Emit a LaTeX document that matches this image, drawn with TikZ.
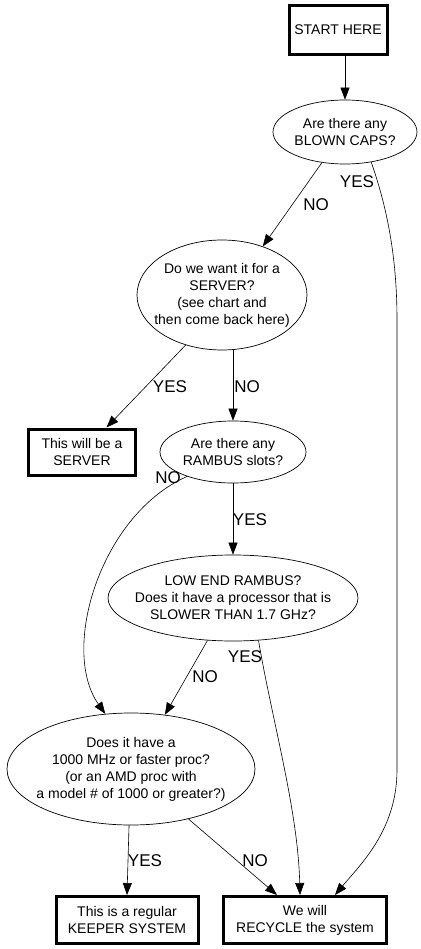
\documentclass[tikz,border=0pt]{standalone}
\usepackage{fontspec}
\setmainfont{Liberation Sans}
\usetikzlibrary{arrows.meta,shapes.geometric}
\begin{document}
\begin{tikzpicture}[x=1pt,y=-1pt,
  box/.style={draw, line width=3pt, rectangle, inner sep=0pt, align=center, font=\fontsize{14}{17}\selectfont},
  ell/.style={draw, line width=0.7pt, ellipse, inner sep=0pt},
  txt/.style={align=center, inner sep=0pt, font=\fontsize{14}{17}\selectfont},
  lab/.style={inner sep=0pt, font=\fontsize{17}{20}\selectfont},
  arr/.style={line width=0.6pt, -{Triangle[length=12pt,width=9pt]}},
]
\path[use as bounding box, fill=white] (0,0) rectangle (420,949);

\node[box, minimum width=98, minimum height=49] (start) at (338,30) {START HERE};
\node[ell, minimum width=144, minimum height=64] (caps) at (345,132) {};
\node[txt] (capsT) at (caps) {Are there any\\BLOWN CAPS?};
\node[ell, minimum width=170, minimum height=110] (server) at (222,295) {};
\node[txt] (serverT) at (server) {Do we want it for a\\SERVER?\\(see chart and\\then come back here)};
\node[box, minimum width=107, minimum height=46] (sbox) at (82,452) {This will be a\\SERVER};
\node[ell, minimum width=146, minimum height=62] (rambus) at (233,452) {};
\node[txt] (rambusT) at (rambus) {Are there any\\RAMBUS slots?};
\node[ell, minimum width=250, minimum height=86] (low) at (233,598) {};
\node[txt] (lowT) at (low) {LOW END RAMBUS?\\Does it have a processor that is\\SLOWER THAN 1.7 GHz?};
\node[ell, minimum width=248, minimum height=112] (mhz) at (131,769) {};
\node[txt] (mhzT) at (mhz) {Does it have a\\1000 MHz or faster proc?\\(or an AMD proc with\\a model \# of 1000 or greater?)};
\node[box, minimum width=142, minimum height=47] (keeper) at (127,920) {This is a regular\\KEEPER SYSTEM};
\node[box, minimum width=163, minimum height=47] (recycle) at (305,920) {We will\\RECYCLE the system};

\draw[arr] (start.south -| caps.north) -- (caps.north);
\draw[arr] (caps.233) -- (server.50);
\draw[arr] (caps.311) .. controls (388,210) and (397,260) .. (397,320) -- (397,770) .. controls (397,830) and (360,865) .. ([xshift=30]recycle.north);
\draw[arr] (server.234) -- (sbox.45);
\draw[arr] (server.south -| rambus.north) -- (rambus.north);
\draw[arr] (rambus.south) -- (low.north);
\draw[arr] (rambus.208) .. controls (100,515) and (60,650) .. (mhz.115);
\draw[arr] (low.239) -- (mhz.58);
\draw[arr] (low.301) .. controls (272,720) and (298,810) .. ([xshift=-5]recycle.north);
\draw[arr] (mhz.268) -- (keeper.north);
\draw[arr] (mhz.319) -- ([xshift=-28]recycle.north);

\node[lab] (l1) at (316,205) {NO};
\node[lab] (l2) at (357,182) {YES};
\node[lab] (l3) at (170,387) {YES};
\node[lab] (l4) at (247,387) {NO};
\node[lab] (l5) at (168,478) {NO};
\node[lab] (l6) at (250,520) {YES};
\node[lab] (l7) at (245,657) {YES};
\node[lab] (l8) at (205,677) {NO};
\node[lab] (l9) at (145,861) {YES};
\node[lab] (l10) at (255,861) {NO};
\end{tikzpicture}
\end{document}
